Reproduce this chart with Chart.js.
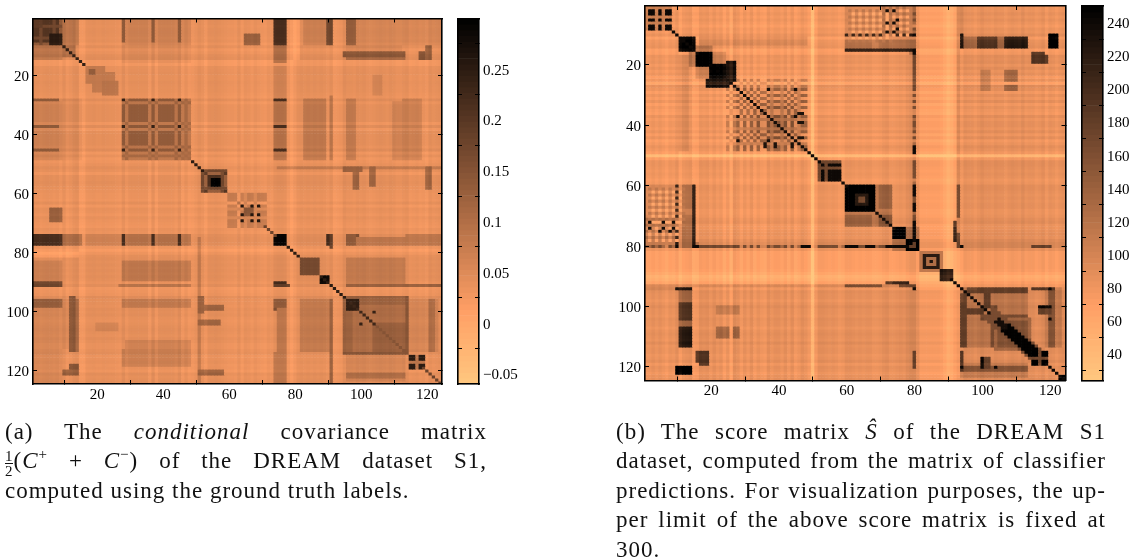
<!DOCTYPE html>
<html>
<head>
<meta charset="utf-8">
<script src="https://cdn.jsdelivr.net/npm/chart.js@4"></script>
<style>
  html, body { margin: 0; background: #fff; }
  body { position: relative; width: 1139px; height: 558px; overflow: hidden; }
  canvas { position: absolute; left: 0; top: 0; }
  #heatA, #heatB { filter: blur(0.45px); }
  .cap { position: absolute; font-family: "Liberation Serif", serif; font-size: 23px; letter-spacing: 1px; line-height: 29.4px; color: #111; white-space: nowrap; }
  .cap div { text-align: justify; text-align-last: justify; white-space: normal; height: 29.4px; }
  .cap div.end { text-align-last: left; }
  .frac { display: inline-block; vertical-align: middle; text-align: center; font-size: 15px; line-height: 14px; margin-right: 1px; letter-spacing: 0; }
  .frac span { display: block; }
  .frac span:first-child { border-bottom: 1.5px solid #111; }
  sup { font-size: 15px; line-height: 0; }
</style>
</head>
<body>
<canvas id="heatA" width="1139" height="558"></canvas>
<canvas id="barA" width="1139" height="558"></canvas>
<canvas id="heatB" width="1139" height="558"></canvas>
<canvas id="barB" width="1139" height="558"></canvas>

<div class="cap" style="left:5px;top:417px;width:482px">
  <div>(a) The <i>conditional</i> covariance matrix</div>
  <div><span class="frac"><span>1</span><span>2</span></span>(<i>C</i><sup>+</sup> + <i>C</i><sup>−</sup>) of the DREAM dataset S1,</div>
  <div class="end">computed using the ground truth labels.</div>
</div>
<div class="cap" style="left:616px;top:417px;width:490px">
  <div>(b) The score matrix <i>Ŝ</i> of the DREAM S1</div>
  <div>dataset, computed from the matrix of classifier</div>
  <div>predictions. For visualization purposes, the up-</div>
  <div>per limit of the above score matrix is fixed at</div>
  <div class="end">300.</div>
</div>

<script>
const size = 124;
const axisTicks = [20, 40, 60, 80, 100, 120];

// (a) covariance
const baseA = 0.038;
const rangeA = [-0.06, 0.3];
const colorTicksA = [-0.05, 0, 0.05, 0.1, 0.15, 0.2, 0.25];
const colorLabelsA = ["−0.05", "0", "0.05", "0.1", "0.15", "0.2", "0.25"];
// row/column tone, index 1..124
const toneA = [2,2,0,2,3,2,0,2,-4, 4,-6,-2,4,6,-10,-10,
  0,1,2,0,0,2,1,0,0,-2,-4,
  6,-4,2,2,2,2,2,2,-8,6,-8,2,2,2,2,2,-2,6,-8,0,-8,
  -6,-2,4,0,-8,2,2,4,2,0,-2,-4,
  -4,-6,2,-8,0,-2,-6,0,-4,-6,-8,-2,-4,
  4,6,6,4,-6,-14,-6,2,
  4,2,4,2,4,2,4,2,-2,4,-8,-6,-4,
  6,2,2,0,4,2,4,0,-2,0,2,4,2,0,4,2,-2,-2,2,4,
  -4,-2,0,-4,-2,-6,4,0,2,4];
// [row from, row to, col from, col to, value, checker] - also mirrored
const blocksA = [
  [10,14,1,9,.07],[1,9,10,13,.09],[10,13,10,13,.1],
  [1,9,1,9,.17,.03],[1,3,1,3,.19],[6,9,6,9,.25],
  [17,22,17,22,.08],[19,25,19,25,.08],[22,26,22,26,.09],[18,19,18,19,.13],
  [28,48,1,8,.06],[28,48,9,15,.05],[1,9,29,48,.065],
  [28,48,28,48,.11,.02],
  [52,59,52,59,.17,.04],[55,57,55,57,.29],
  [60,71,60,71,.06,.03],[65,67,65,67,.15],[65,69,6,9,.13],
  [74,77,1,8,.22],[74,77,9,15,.1],[74,77,17,27,.06],[74,77,28,48,.09],
  [74,77,74,77,.28],[74,77,90,91,.22],[74,77,96,99,.15],[75,77,100,113,.1],[74,77,114,124,.08],
  [82,87,82,87,.14,.02],[88,90,88,90,.28],
  [83,90,1,8,.08],[91,91,1,8,.16],[91,91,27,48,.09],[83,87,29,48,.085],[80,81,1,14,.015],
  [96,112,1,11,.055],[96,113,12,14,.1],[96,98,1,8,.12],[118,120,12,14,.15],
  [51,51,75,124,.075],
  [95,100,51,52,.12],[98,99,52,58,.12],[103,104,51,57,.12],[120,121,51,58,.12],
  [110,118,29,48,.065],[104,106,20,26,.06],
  [96,113,75,77,.08],[96,98,74,77,.13],[96,113,83,91,.065],[96,98,90,91,.13],[91,91,74,78,.18],
  [82,90,96,113,.075],[91,91,96,124,.12],
  [95,114,95,114,.1],[104,113,104,113,.125],[95,97,95,114,.12],[114,114,95,114,.14],[96,99,96,99,.24],
  [115,123,96,113,.06],[121,122,96,113,.1],
  [115,119,115,119,.09,.02],
  [1,9,74,77,.21],[1,9,90,91,.17],[1,9,96,98,.13],[1,9,83,89,.065],[1,9,99,124,.055],
  [12,13,95,113,.14],[10,14,120,121,.13],
  [28,48,83,89,.08],[28,48,91,91,.085],[28,48,96,98,.08],[28,48,113,118,.07]
];
// [rows/cols that cross, value]
const crossA = [
  [[28,37,45],.24],[[64,67,69],.26],[[115,116,118,119],.25],[[100,104],.24]
];
// [row list, col list, value] - dark stripes
const stripesA = [
  [[28,37,45],[1,2,3,4,5,6,7,8],.16],
  [[1,2,3,4,5,6,7,8],[28,37,45],.14],
  [[74,75,76,77],[28,37,45],.22]
];
// [from, to, value, half width]
const diagA = [[9,16,.24,0],[49,52,.25,0],[71,74,.18,0],[78,81,.25,0],[88,95,.25,0],[97,104,.23,0],[105,113,.15,0],[119,124,.18,0]];

// (b) score
const baseB = 74;
const rangeB = [24, 250];
const colorTicksB = [40, 60, 80, 100, 120, 140, 160, 180, 200, 220, 240];
const colorLabelsB = ["40", "60", "80", "100", "120", "140", "160", "180", "200", "220", "240"];
const toneB = [0,0,4,0,4,0,-4,2,0,6,-6,2,4,6,-6,-4,
  6,4,6,0,6,0,4,-6,2,-12,8,
  4,-4,4,-2,6,-4,2,-2,-4,6,0,4,4,0,6,-2,6,-4,0,6,2,
  -4,-32,-4,6,6,4,2,4,2,-2,0,6,
  6,4,2,4,2,4,4,0,0,2,6,8,2,
  2,4,6,4,10,14,14,4,
  -6,-6,-6,-6,-6,-6,-8,-14,-22,-18,-10,-4,2,
  10,8,8,4,8,12,8,8,6,10,8,8,4,8,10,8,6,12,6,8,
  8,4,6,10,2,8,6,2,6,8];
const blocksB = [
  [1,8,1,8,105,45],[9,10,1,8,85],[9,15,1,10,75],
  [11,13,17,48,90],[14,20,14,16,115],
  [11,15,11,15,245],[16,20,20,24,100],[16,20,16,20,250],[20,25,20,25,245],
  [19,25,25,27,225],[26,27,20,25,225],
  [28,48,25,28,85,18],[28,48,28,48,105,28],[33,45,33,45,120,30],
  [52,58,52,58,160],[55,57,55,57,225],
  [69,73,60,73,110,22],[60,68,60,68,248],[63,66,63,66,215],[64,65,64,65,160],
  [69,73,69,73,115,30],
  [74,77,74,77,250],[78,81,78,81,250],[74,77,78,81,110],
  [60,78,1,13,88],[74,76,1,8,125,25],
  [80,80,1,80,115,30],[79,79,1,16,110],[80,80,17,28,150],
  [11,15,60,80,100,14],[15,15,60,80,150,40],[10,12,70,80,105,14],[1,10,70,79,92],
  [82,88,82,88,130],[83,87,83,87,235],[84,86,84,86,140],[85,85,85,85,240],[88,91,88,91,250],
  [72,76,92,92,190],[92,92,74,78,215],[60,63,93,93,165],[93,93,1,80,98],[93,93,60,70,165],[93,93,76,80,165],
  [94,94,1,9,95],[94,94,10,14,220],
  [95,98,11,14,125],[99,104,11,14,180],[105,106,11,14,125],[107,113,11,14,210],
  [120,122,10,14,245],[116,119,17,19,175],[107,110,22,25,125],[107,110,27,28,125],[100,102,22,28,100],
  [10,14,120,121,245],[16,19,115,118,180],
  [94,113,94,113,100],[100,113,103,104,150],[96,113,94,95,160],[94,94,99,113,170],[101,102,96,100,165],
  [104,114,104,114,115],[105,113,105,113,140],
  [115,119,115,119,130,25],
  [119,123,94,113,98],[120,121,94,113,140],
  [80,80,94,94,220],[80,80,115,120,155],[94,94,115,121,180],[100,102,117,120,160],[100,100,117,119,220],
  [123,124,123,124,250],
  [60,80,10,10,195],[60,80,15,15,215]
];
const crossB = [
  [[2,3,5,7,8],240],[[28,37,45],235],[[115,116,118,119],250],[[53,55,56,57,58],240]
];
const stripesB = [
  [[61,63,65,67,69,71,73],[2,4,6,8,10,12],115],
  [[62,64,66,68,70,72],[3,5,7,9,11],60],
  [[1,3,5,7,9],[71,73,75,77],125],
  [[2,4,6,8,10],[72,74,76,78],65],
  [[80],[10,15,16,47,48,49,60,61,62,63,66,67,68,72,73,74,75,76,77,78],240],
  [[75],[5,8],235],
  [[2,6,9],[72,74],235],
  [[120],[94,100,104],240],
  [[36,39,44],[46,47],230]
];
const diagB = [[9,16,240,0],[26,49,235,0],[49,52,240,0],[58,60,235,0],[69,74,235,0],
  [91,107,240,0],[103,114,165,3],[105,114,235,1],[108,114,248,2],[119,124,240,0]];

// plot boxes in page pixels [left, top, right, bottom]
const boxHeatA = [33, 18.5, 442, 384];
const boxBarA = [458, 18.5, 479, 384];
const boxHeatB = [645, 6, 1065.5, 380.5];
const boxBarB = [1082, 6, 1103, 380.5];

const tickFont = { family: "Liberation Serif", size: 15 };
const tickLen = 4;

// flipped matlab copper
function copper(v, range) {
  let x = (range[1] - v) / (range[1] - range[0]);
  x = Math.max(0, Math.min(1, x));
  let r = Math.min(1, 1.25 * x), g = 0.7812 * x, b = 0.4975 * x;
  return "rgb(" + Math.round(r * 255) + "," + Math.round(g * 255) + "," + Math.round(b * 255) + ")";
}

function buildGrid(base, tone, toneUnit, blocks, crosses, stripes, diags) {
  let grid = [];
  let t = (i, j) => (tone[i - 1] + tone[j - 1]) * toneUnit;
  for (let i = 1; i <= size; i++) {
    grid[i] = [];
    for (let j = 1; j <= size; j++) grid[i][j] = base + t(i, j);
  }
  blocks.forEach((b) => {
    for (let i = b[0]; i <= b[1]; i++) {
      for (let j = b[2]; j <= b[3]; j++) {
        let v = b[4] + t(i, j);
        if (b[5]) v += b[5] * Math.sign(tone[i - 1]) * Math.sign(tone[j - 1]);
        grid[i][j] = v;
        grid[j][i] = v;
      }
    }
  });
  stripes.forEach((s) => {
    s[0].forEach((i) => s[1].forEach((j) => { grid[i][j] = s[2]; grid[j][i] = s[2]; }));
  });
  crosses.forEach((c) => {
    c[0].forEach((i) => c[0].forEach((j) => { grid[i][j] = c[1]; }));
  });
  diags.forEach((d) => {
    for (let k = d[0]; k <= d[1]; k++) {
      for (let w = -d[3]; w <= d[3]; w++) {
        if (k + w >= 1 && k + w <= size) { grid[k][k + w] = d[2]; grid[k + w][k] = d[2]; }
      }
    }
  });
  return grid;
}

// room is the space the axis takes, the layout padding fills up the rest of the plot box
function frameAxis(position, min, max, ticks, labels, pad, room, reverse) {
  let vertical = position === "left" || position === "right";
  return {
    type: "linear", position: position, min: min, max: max, reverse: !!reverse,
    offset: false,
    afterBuildTicks: (axis) => { axis.ticks = ticks.map((v) => ({ value: v })); },
    afterFit: (axis) => {
      if (axis.isHorizontal()) axis.height = room || 0; else axis.width = room || 0;
      axis.paddingTop = 0; axis.paddingBottom = 0; axis.paddingLeft = 0; axis.paddingRight = 0;
    },
    grid: { drawOnChartArea: false, drawTicks: ticks.length > 0, tickLength: -tickLen, tickColor: "#000", tickWidth: 1, z: 2 },
    border: { display: true, color: "#000", width: 1.6, z: 2 },
    ticks: {
      display: !!labels, color: "#000", font: tickFont, padding: pad || 0,
      labelOffset: vertical ? 1.5 : 0,
      autoSkip: false, maxRotation: 0,
      callback: (v, idx) => (labels ? labels[idx] : "")
    }
  };
}

function heatChart(id, box, grid, range) {
  let datasets = [];
  for (let i = 1; i <= size; i++) {
    let data = [], colors = [];
    for (let j = 1; j <= size; j++) {
      data.push({ x: j, y: [i - 0.5, i + 0.5] });
      colors.push(copper(grid[i][j], range));
    }
    datasets.push({ data: data, backgroundColor: colors, borderWidth: 0, barPercentage: 1, categoryPercentage: 1, grouped: false });
  }
  new Chart(id, {
    type: "bar",
    data: { datasets: datasets },
    options: {
      responsive: false, animation: false, events: [],
      layout: { autoPadding: false, padding: { left: 0, top: box[1], right: 1139 - box[2], bottom: 0 } },
      plugins: { legend: { display: false }, tooltip: { enabled: false } },
      scales: {
        x: frameAxis("bottom", 0.5, size + 0.5, axisTicks, axisTicks.map(String), 6, 558 - box[3]),
        y: frameAxis("left", 0.5, size + 0.5, axisTicks, axisTicks.map(String), 8, box[0], true),
        xTop: frameAxis("top", 0.5, size + 0.5, axisTicks),
        yRight: frameAxis("right", 0.5, size + 0.5, axisTicks, null, 0, 0, true)
      }
    }
  });
}

function colorbarChart(id, box, range, ticks, labels) {
  let data = [], colors = [];
  let step = (range[1] - range[0]) / 64;
  for (let k = 0; k < 64; k++) {
    let mid = range[0] + (k + 0.5) * step;
    data.push({ x: 1, y: mid });
    colors.push(copper(mid, range));
  }
  new Chart(id, {
    type: "bar",
    data: { datasets: [{ data: data, backgroundColor: colors, borderWidth: 0, barPercentage: 1, categoryPercentage: 1 }] },
    options: {
      indexAxis: "y",
      responsive: false, animation: false, events: [],
      layout: { autoPadding: false, padding: { left: box[0], top: box[1], right: 0, bottom: 558 - box[3] } },
      plugins: { legend: { display: false }, tooltip: { enabled: false } },
      scales: {
        x: frameAxis("bottom", 0, 1, []),
        xTop: frameAxis("top", 0, 1, []),
        y: frameAxis("right", range[0], range[1], ticks, labels, 8, 1139 - box[2]),
        yLeft: frameAxis("left", range[0], range[1], ticks)
      }
    }
  });
}

heatChart("heatA", boxHeatA, buildGrid(baseA, toneA, 0.0013, blocksA, crossA, stripesA, diagA), rangeA);
colorbarChart("barA", boxBarA, rangeA, colorTicksA, colorLabelsA);
heatChart("heatB", boxHeatB, buildGrid(baseB, toneB, 1.2, blocksB, crossB, stripesB, diagB), rangeB);
colorbarChart("barB", boxBarB, rangeB, colorTicksB, colorLabelsB);
</script>
</body>
</html>
